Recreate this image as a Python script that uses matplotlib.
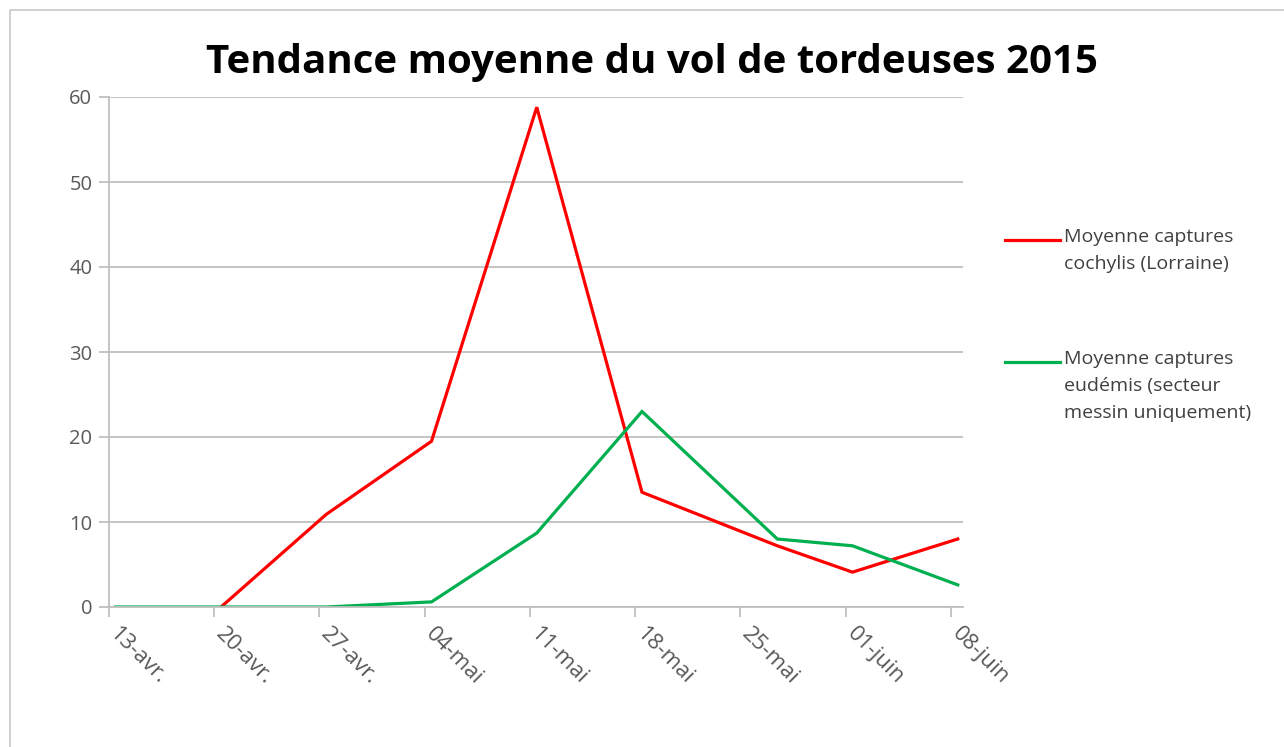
import matplotlib.pyplot as plt
from matplotlib.lines import Line2D
from matplotlib.patches import Rectangle
import numpy as np

# dates as day offsets from 13 april 2015
tick_days = [0, 7, 14, 21, 28, 35, 42, 49, 56]
tick_labels = ["13-avr.", "20-avr.", "27-avr.", "04-mai", "11-mai",
               "18-mai", "25-mai", "01-juin", "08-juin"]

# sample dates (the 6th sample is on 27 may)
sample_days = [0, 7, 14, 21, 28, 35, 44, 49, 56]
cochylis = [np.nan, 0, 10.9, 19.5, 58.8, 13.5, 7.2, 4.1, 8.0]
eudemis = [0, 0, 0, 0.6, 8.7, 23.0, 8.0, 7.2, 2.6]

label_red = "Moyenne captures\ncochylis (Lorraine)"
label_green = "Moyenne captures\neudémis (secteur\nmessin uniquement)"

plt.rcParams['font.family'] = ['Open Sans', 'DejaVu Sans']

fig = plt.figure(figsize=(12.84, 7.47), dpi=100)
ax = fig.add_axes([109/1284, 1-607/747, (963-109)/1284, (607-97)/747])

x = np.array(sample_days) + 0.45
ax.plot(x, cochylis, color='#ff0000', lw=2.3, solid_joinstyle='miter')
ax.plot(x, eudemis, color='#00b050', lw=2.3, solid_joinstyle='miter')

ax.set_xlim(0, 56.8)
ax.set_ylim(0, 60)
ax.set_yticks(range(0, 61, 10))
ax.set_xticks(tick_days)
ax.set_xticklabels([])
# rotated date labels hanging from each tick
for d, lab in zip(tick_days, tick_labels):
    ax.annotate(lab, (d, 0), xytext=(3, -17), textcoords='offset points',
                rotation=-45, rotation_mode='anchor', ha='left', va='center',
                fontsize=16, color='#595959', annotation_clip=False)
ax.grid(axis='y', color='#bfbfbf', lw=1.3)
ax.set_axisbelow(True)
for s in ['top', 'right']:
    ax.spines[s].set_visible(False)
for s in ['left', 'bottom']:
    ax.spines[s].set_color('#bfbfbf')
    ax.spines[s].set_linewidth(1.3)
ax.tick_params(axis='both', colors='#bfbfbf', labelcolor='#595959',
               labelsize=14.5, length=7, width=1.3)
ax.tick_params(axis='y', pad=5)

fig.text(652/1284, 1-62/747, "Tendance moyenne du vol de tordeuses 2015",
         ha='center', va='center', fontsize=29, fontweight='bold')

# legend drawn by hand to the right of the plot
fig.add_artist(Line2D([1005/1284, 1060/1284], [1-240/747]*2,
                      color='#ff0000', lw=2.3))
fig.text(1064/1284, 1-228/747, label_red, ha='left', va='top',
         fontsize=14, color='#404040', linespacing=1.65)
fig.add_artist(Line2D([1005/1284, 1060/1284], [1-362/747]*2,
                      color='#00b050', lw=2.3))
fig.text(1064/1284, 1-350/747, label_green, ha='left', va='top',
         fontsize=14, color='#404040', linespacing=1.65)

# thin frame of the chart area
fig.add_artist(Rectangle((10/1284, -0.05), 1.1, (737/747)+0.05,
                         transform=fig.transFigure, fill=False,
                         edgecolor='#c8c8c8', lw=1.2))

fig.savefig('out.png', dpi=100)
